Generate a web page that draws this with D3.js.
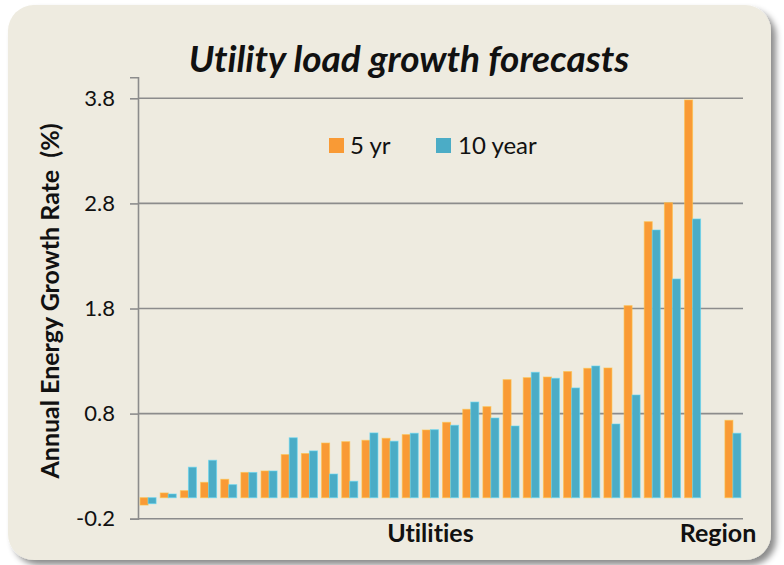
<!DOCTYPE html>
<html>
<head>
<meta charset="utf-8">
<script src="https://cdn.jsdelivr.net/npm/d3@7/dist/d3.min.js"></script>
<style>
  html, body { margin: 0; padding: 0; background: #ffffff; }
  svg { display: block; }
  text { font-family: Lato, "Open Sans", sans-serif; fill: #111; font-variant-ligatures: none; font-feature-settings: "liga" 0, "clig" 0; }
</style>
</head>
<body>
<svg id="chart" width="784" height="565"></svg>
<script>
// ---- data ----
const utilities = d3.range(1, 29).map(i => "Utility " + i);
const categories = utilities.concat(["(gap)", "Region"]);
const seriesNames = ["5 yr", "10 year"];
const fiveYear = [-0.07, 0.045, 0.067, 0.146, 0.175, 0.24, 0.254, 0.41, 0.42, 0.52,
                  0.533, 0.546, 0.565, 0.6, 0.644, 0.717, 0.841, 0.866, 1.123, 1.142,
                  1.148, 1.2, 1.231, 1.234, 1.827, 2.626, 2.807, 3.784];
const tenYear  = [-0.057, 0.035, 0.29, 0.356, 0.124, 0.24, 0.254, 0.57, 0.445, 0.225,
                  0.156, 0.616, 0.537, 0.613, 0.647, 0.689, 0.91, 0.758, 0.682, 1.193,
                  1.136, 1.044, 1.253, 0.701, 0.977, 2.547, 2.081, 2.652];
const regionFive = 0.736;
const regionTen = 0.613;
const yTicks = [-0.2, 0.8, 1.8, 2.8, 3.8];
const yTickLabels = ["-0.2", "0.8", "1.8", "2.8", "3.8"];
const colors = ["#F99A35", "#4BACC6"];

// build table
const rows = utilities.map((u, i) => ({ cat: u, values: [fiveYear[i], tenYear[i]] }));
rows.push({ cat: "Region", values: [regionFive, regionTen] });

const svg = d3.select("#chart");

// card background with shadow
const defs = svg.append("defs");
const f = defs.append("filter").attr("id", "shadow").attr("x", "-5%").attr("y", "-5%").attr("width", "115%").attr("height", "115%");
f.append("feDropShadow").attr("dx", 5).attr("dy", 5).attr("stdDeviation", 3).attr("flood-color", "#000").attr("flood-opacity", 0.45);

svg.append("rect")
  .attr("x", 8).attr("y", 5).attr("width", 763).attr("height", 555)
  .attr("rx", 26).attr("ry", 26)
  .attr("fill", "#EEEBE0")
  .attr("filter", "url(#shadow)");

// scales
const left = 138, right = 743;
const x0 = d3.scaleBand().domain(categories).range([left, right]).paddingInner(0).paddingOuter(0);
const x1 = d3.scaleBand().domain([0, 1]).range([0, x0.bandwidth()]).paddingInner(0).paddingOuter(0.26);
const y = d3.scaleLinear().domain([-0.2, 4.0]).range([518.7, 77.3]);

// gridlines
svg.append("g").selectAll("line").data(yTicks).join("line")
  .attr("x1", left).attr("x2", right)
  .attr("y1", d => y(d)).attr("y2", d => y(d))
  .attr("stroke", "#8c8c8c").attr("stroke-width", 1.6);

// y axis
const yAxis = d3.axisLeft(y).tickValues(yTicks).tickFormat((d, i) => yTickLabels[i]).tickSize(8).tickPadding(15);
const ga = svg.append("g").attr("transform", `translate(${left},0)`).call(yAxis);
ga.select(".domain").attr("stroke", "#8c8c8c").attr("stroke-width", 1.6);
ga.selectAll(".tick line").attr("stroke", "#8c8c8c").attr("stroke-width", 1.6);
ga.selectAll(".tick text").attr("font-size", 22).attr("font-family", "Lato, sans-serif").attr("fill", "#111");

// bars
const groups = svg.append("g").selectAll("g").data(rows).join("g")
  .attr("transform", d => `translate(${x0(d.cat)},0)`);
groups.selectAll("rect").data(d => d.values.map((v, k) => ({ v, k }))).join("rect")
  .attr("x", d => x1(d.k))
  .attr("width", x1.bandwidth())
  .attr("y", d => y(Math.max(0, d.v)))
  .attr("height", d => Math.abs(y(d.v) - y(0)))
  .attr("fill", d => colors[d.k])
  .attr("stroke", d => d3.color(colors[d.k]).brighter(0.6))
  .attr("stroke-opacity", 0.6)
  .attr("stroke-width", 1);

// title
svg.append("text")
  .attr("x", 409).attr("y", 72)
  .attr("text-anchor", "middle")
  .attr("font-size", 37).attr("font-weight", "bold").attr("font-style", "italic")
  .text("Utility load growth forecasts");

// y-axis title
svg.append("text")
  .attr("transform", "translate(59,301) rotate(-90)")
  .attr("text-anchor", "middle")
  .attr("font-size", 25).attr("font-weight", "bold")
  .attr("xml:space", "preserve")
  .text("Annual Energy Growth Rate  (%)");

// x labels
svg.append("text")
  .attr("x", x0(utilities[14]) + x0.bandwidth() / 2).attr("y", 542)
  .attr("text-anchor", "middle")
  .attr("font-size", 25).attr("font-weight", "bold")
  .text("Utilities");
svg.append("text")
  .attr("x", 718).attr("y", 542)
  .attr("text-anchor", "middle")
  .attr("font-size", 25).attr("font-weight", "bold")
  .text("Region");

// legend
const legendPos = [{ x: 329, tx: 350 }, { x: 436, tx: 458 }];
const lg = svg.append("g").selectAll("g").data(seriesNames).join("g");
lg.append("rect")
  .attr("x", (d, i) => legendPos[i].x).attr("y", 138)
  .attr("width", 15).attr("height", 15)
  .attr("fill", (d, i) => colors[i]);
lg.append("text")
  .attr("x", (d, i) => legendPos[i].tx).attr("y", 154)
  .attr("font-size", 24)
  .text(d => d);
</script>
</body>
</html>
